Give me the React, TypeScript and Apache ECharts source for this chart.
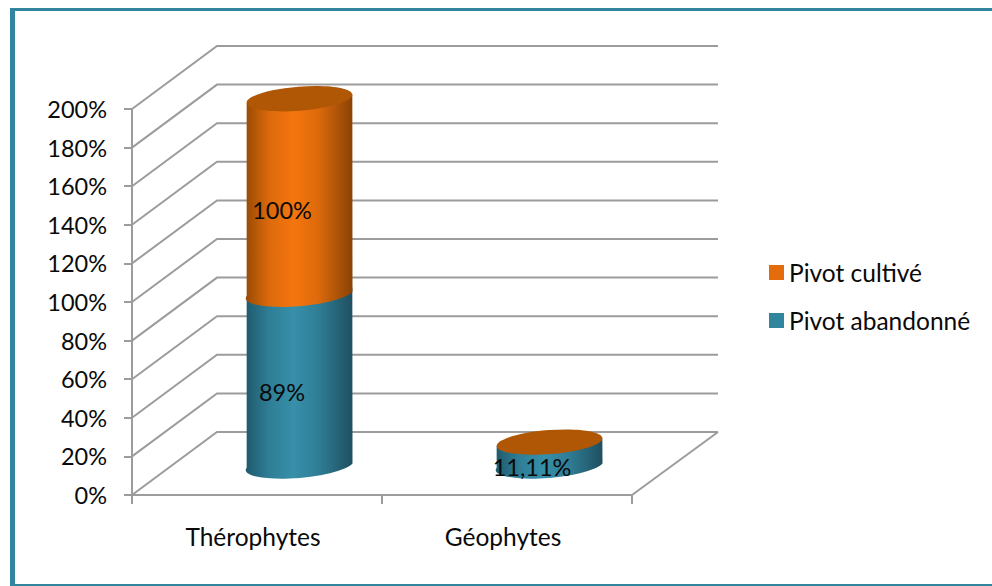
import React, { useEffect, useRef } from "react";
import * as echarts from "echarts";

const categories = ["Thérophytes", "Géophytes"];
const pivotAbandonne = [89, 11.11];
const pivotCultive = [100, 0];
const labelsAbandonne = ["89%", "11,11%"];
const labelsCultive = ["100%", ""];
const yTicks = [0, 20, 40, 60, 80, 100, 120, 140, 160, 180, 200];

const FONT = "Lato, Carlito, sans-serif";
const GRID_GRAY = "#9c9c9c";
const TEAL = "#31859c";
const ORANGE = "#e46c0a";
const TOP_ORANGE = "#b05706";
const INK = "#0a0a0a";

// Oblique offset between the front and back planes of the 3D box.
const DX = 85;
const DY = -63;
const TILT = 4.5;
const RY = 12;

function cylinderShade(edgeL: string, mid: string, peak: string, edgeR: string) {
  return {
    type: "linear",
    x: 0,
    y: 0,
    x2: 1,
    y2: 0,
    colorStops: [
      { offset: 0, color: edgeL },
      { offset: 0.22, color: mid },
      { offset: 0.45, color: peak },
      { offset: 0.68, color: mid },
      { offset: 1, color: edgeR },
    ],
  };
}

const orangeShade = cylinderShade("#994a05", "#dc6a0b", "#f5750e", "#8a4205");
const tealShade = cylinderShade("#1f5a6e", "#2f7e96", "#378fa9", "#1f4f60");

function ellipseEdges(cx: number, cy: number, rx: number) {
  const a = (TILT * Math.PI) / 180;
  return {
    l: [cx - rx * Math.cos(a), cy + rx * Math.sin(a)],
    r: [cx + rx * Math.cos(a), cy - rx * Math.sin(a)],
  };
}

// One stacked cylinder segment: a curved bottom edge, closed by a chord at the top.
function cylinderItem(api: any, fill: any, withCap: boolean) {
  const band = api.size([1, 0])[0];
  const rx = band * 0.212;
  const low = api.coord([api.value(0), api.value(1)]);
  const high = api.coord([api.value(0), api.value(2)]);
  const cx = low[0] + DX / 2;
  const y0 = low[1] + DY / 2;
  const y1 = high[1] + DY / 2;
  const b = ellipseEdges(cx, y0, rx);
  const t = ellipseEdges(cx, y1, rx);
  const arc = `A${rx} ${RY} ${-TILT} 0 0`;
  const pathData =
    `M${t.l[0]} ${t.l[1]}L${b.l[0]} ${b.l[1]}${arc} ${b.r[0]} ${b.r[1]}` +
    `L${t.r[0]} ${t.r[1]}Z`;
  const children: any[] = [];
  if (y0 - y1 > 0.5) {
    children.push({
      type: "path",
      shape: { pathData },
      style: { fill },
    });
  }
  if (withCap) {
    children.push({
      type: "ellipse",
      shape: { cx: 0, cy: 0, rx, ry: RY },
      x: cx,
      y: y1,
      rotation: (TILT * Math.PI) / 180,
      style: { fill: TOP_ORANGE },
    });
  }
  return { type: "group", children };
}

export default function App() {
  const ref = useRef<HTMLDivElement>(null);

  useEffect(() => {
    const chart = echarts.init(ref.current!, undefined, { renderer: "svg" });
    const stackLow = categories.map((_, i) => [i, 0, pivotAbandonne[i]]);
    const stackHigh = categories.map((_, i) => [
      i,
      pivotAbandonne[i],
      pivotAbandonne[i] + pivotCultive[i],
    ]);
    const labelPoints = categories.flatMap((_, i) => [
      [i, pivotAbandonne[i] / 2, labelsAbandonne[i]],
      [i, pivotAbandonne[i] + pivotCultive[i] / 2, labelsCultive[i]],
    ]);

    chart.setOption({
      animation: false,
      backgroundColor: "#ffffff",
      textStyle: { fontFamily: FONT },
      grid: { left: 132, right: 360, top: 109, bottom: 91 },
      legend: {
        orient: "vertical",
        left: 764,
        top: 255,
        itemWidth: 15,
        itemHeight: 15,
        itemGap: 23,
        icon: "rect",
        selectedMode: false,
        data: ["Pivot cultivé", "Pivot abandonné"],
        textStyle: { fontFamily: FONT, fontSize: 24.5, color: INK },
      },
      xAxis: {
        type: "category",
        data: categories,
        axisLine: { lineStyle: { color: GRID_GRAY, width: 2 } },
        axisTick: {
          show: true,
          alignWithLabel: false,
          length: 9,
          lineStyle: { color: GRID_GRAY, width: 2 },
        },
        axisLabel: {
          fontFamily: FONT,
          fontSize: 24.5,
          color: INK,
          margin: 29,
          padding: [0, 8, 0, 0],
        },
      },
      yAxis: {
        type: "value",
        min: 0,
        max: 200,
        interval: 20,
        splitLine: { show: false },
        axisLine: { show: true, lineStyle: { color: GRID_GRAY, width: 2 } },
        axisTick: { show: true, length: 8, lineStyle: { color: GRID_GRAY, width: 2 } },
        axisLabel: {
          fontFamily: FONT,
          fontSize: 23.5,
          color: INK,
          margin: 25,
          padding: [5, 0, 0, 0],
          formatter: "{value}%",
        },
      },
      graphic: [
        { type: "rect", shape: { x: 10, y: 8, width: 982, height: 3 }, style: { fill: TEAL } },
        { type: "rect", shape: { x: 10, y: 8, width: 5, height: 578 }, style: { fill: TEAL } },
        { type: "rect", shape: { x: 10, y: 584, width: 982, height: 2 }, style: { fill: TEAL } },
      ],
      series: [
        {
          // Side wall, back wall and floor of the box.
          type: "custom",
          name: "grille",
          z: 1,
          silent: true,
          encode: { x: 0, y: 1 },
          data: yTicks.map((t) => [0, t]),
          renderItem: (params: any, api: any) => {
            const sys = params.coordSys;
            const y = api.coord([0, api.value(1)])[1];
            const left = sys.x;
            const right = sys.x + sys.width;
            const line = {
              stroke: GRID_GRAY,
              lineWidth: 2,
              fill: "none",
            };
            const children: any[] = [
              {
                type: "polyline",
                shape: {
                  points: [
                    [left, y],
                    [left + DX, y + DY],
                    [right + DX + 1, y + DY],
                  ],
                },
                style: line,
              },
            ];
            if (api.value(1) === 0) {
              children.push({
                type: "line",
                shape: { x1: right, y1: y, x2: right + DX + 1, y2: y + DY },
                style: line,
              });
            }
            return { type: "group", children };
          },
        },
        {
          type: "custom",
          name: "Pivot abandonné",
          z: 3,
          silent: true,
          itemStyle: { color: TEAL },
          encode: { x: 0, y: [1, 2] },
          data: stackLow,
          renderItem: (_: any, api: any) => cylinderItem(api, tealShade, false),
        },
        {
          type: "custom",
          name: "Pivot cultivé",
          z: 4,
          silent: true,
          itemStyle: { color: ORANGE },
          encode: { x: 0, y: [1, 2] },
          data: stackHigh,
          renderItem: (_: any, api: any) => cylinderItem(api, orangeShade, true),
        },
        {
          // Value labels sit above every cylinder.
          type: "custom",
          name: "valeurs",
          z: 5,
          silent: true,
          encode: { x: 0, y: 1 },
          data: labelPoints,
          renderItem: (params: any, api: any) => {
            const p = api.coord([api.value(0), api.value(1)]);
            return {
              type: "text",
              x: p[0] + 25,
              y: p[1] - 17,
              style: {
                text: labelPoints[params.dataIndex][2] as string,
                fontFamily: FONT,
                fontSize: 23.5,
                fill: INK,
                align: "center",
                verticalAlign: "middle",
              },
            };
          },
        },
      ],
    });
    return () => chart.dispose();
  }, []);

  return (
    <div
      ref={ref}
      style={{ position: "fixed", left: 0, top: 0, width: 992, height: 586 }}
    />
  );
}
